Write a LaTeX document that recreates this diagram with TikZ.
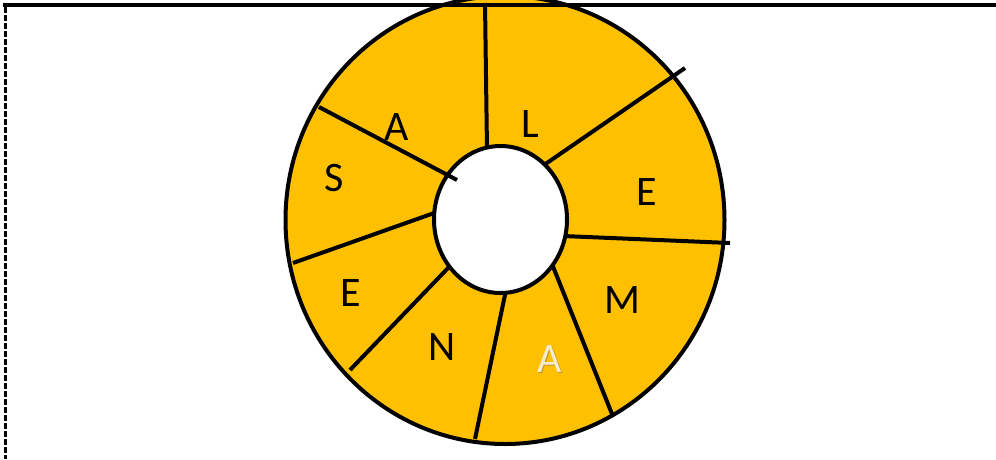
\documentclass[tikz,border=0pt]{standalone}
\usepackage{fontspec}
\setmainfont{Carlito}
\usetikzlibrary{calc}
\definecolor{gold}{HTML}{FFC000}
\definecolor{paleA}{RGB}{246,236,205}
\definecolor{edgeA}{RGB}{190,150,50}
\tikzset{
  ring/.style={draw=black, line width=4pt},
  spoke/.style={draw=black, line width=4pt},
  letter/.style={font=\fontsize{42}{42}\selectfont, text=black, inner sep=0pt,
                 text height=27pt, text depth=0pt, anchor=center},
}
\begin{document}
\begin{tikzpicture}[x=1pt, y=-1pt]
\useasboundingbox (0,0) rectangle (996,459);
% outer disc
\fill[gold] (505,220) ellipse [x radius=219.5, y radius=224];
\draw[ring] (505,220) ellipse [x radius=219.5, y radius=224];
% spoke endpoints
\coordinate (o1) at (485,3);   \coordinate (i1) at (487,150);
\coordinate (o2) at (685,68);  \coordinate (i2) at (544,165);
\coordinate (o3) at (730,243); \coordinate (i3) at (563,236);
\coordinate (o4) at (612,414); \coordinate (i4) at (552,264);
\coordinate (o5) at (475,439); \coordinate (i5) at (506,290);
\coordinate (o6) at (350,370); \coordinate (i6) at (449,267);
\coordinate (o7) at (293,263); \coordinate (i7) at (437,212);
\coordinate (o8) at (319,107); \coordinate (i8) at (457,180);
\foreach \k in {1,...,7}{
  \draw[spoke] (o\k) -- ($(o\k)!1.05!(i\k)$);
}
% inner hole
\fill[white] (500.5,219.5) ellipse [x radius=66.5, y radius=73.5];
\draw[ring] (500.5,219.5) ellipse [x radius=66.5, y radius=73.5];
\draw[spoke] (o8) -- (i8);
% letters
\node[letter] (tA) at (397,127) {A};
\node[letter] (tL) at (530,124) {L};
\node[letter] (tS) at (334,178) {S};
\node[letter] (tE1) at (647,192) {E};
\node[letter] (tE2) at (351,293) {E};
\node[letter] (tN) at (442,347) {N};
\node[letter] (tM) at (622,300) {M};
\node[letter, text=edgeA] (tA2s) at (550.8,359.8) {A};
\node[letter, text=paleA] (tA2) at (550,359) {A};
% frame lines
\draw[black, line width=4.5pt] (3,5) -- (996,5);
\draw[black, line width=3pt, dash pattern=on 6pt off 2pt] (5,7) -- (5,459);
\end{tikzpicture}
\end{document}
